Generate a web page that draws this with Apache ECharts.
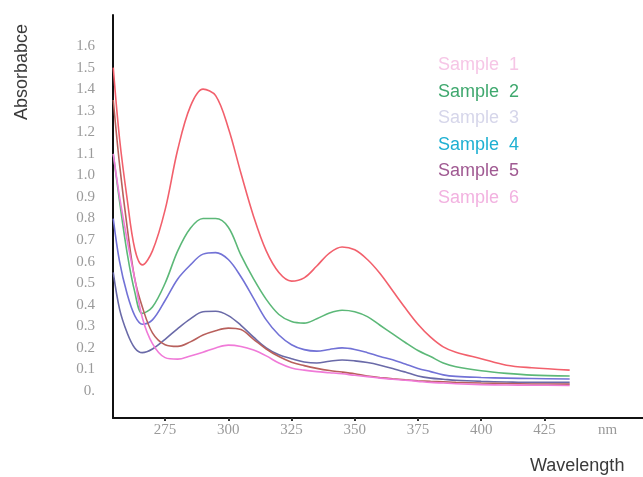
<!DOCTYPE html>
<html>
<head>
<meta charset="utf-8">
<script src="https://cdn.jsdelivr.net/npm/echarts@6/dist/echarts.min.js"></script>
<style>
  html, body { margin: 0; padding: 0; background: #fff; }
  #chart { width: 643px; height: 477px; }
</style>
</head>
<body>
<div id="chart"></div>
<script>
// Wavelength grid (nm) shared by every spectrum
const wavelengths = [254.5, 257, 260, 263, 266, 270, 275, 280, 285, 290, 295, 300, 305, 310, 315, 320, 325, 330, 335, 340, 345, 350, 355, 360, 365, 370, 375, 380, 385, 390, 400, 410, 420, 435];

// Absorbance of each sample at the wavelengths above
const sample1 = [1.50, 1.17, 0.89, 0.66, 0.585, 0.65, 0.84, 1.12, 1.32, 1.40, 1.37, 1.22, 1.01, 0.81, 0.65, 0.55, 0.51, 0.525, 0.58, 0.64, 0.668, 0.655, 0.61, 0.545, 0.465, 0.385, 0.31, 0.25, 0.205, 0.18, 0.15, 0.12, 0.108, 0.097];
const sample2 = [1.10, 0.88, 0.64, 0.46, 0.36, 0.39, 0.50, 0.65, 0.755, 0.80, 0.80, 0.76, 0.63, 0.52, 0.425, 0.355, 0.322, 0.315, 0.335, 0.362, 0.375, 0.368, 0.345, 0.305, 0.265, 0.225, 0.188, 0.16, 0.13, 0.113, 0.094, 0.082, 0.074, 0.07];
const sample3 = [0.80, 0.60, 0.45, 0.35, 0.31, 0.33, 0.42, 0.52, 0.585, 0.635, 0.642, 0.61, 0.53, 0.43, 0.33, 0.26, 0.215, 0.192, 0.185, 0.193, 0.20, 0.193, 0.178, 0.16, 0.145, 0.125, 0.105, 0.09, 0.075, 0.068, 0.063, 0.06, 0.058, 0.056];
const sample4 = [0.55, 0.38, 0.27, 0.20, 0.178, 0.195, 0.24, 0.29, 0.335, 0.368, 0.37, 0.35, 0.305, 0.25, 0.20, 0.168, 0.15, 0.135, 0.13, 0.138, 0.144, 0.14, 0.132, 0.12, 0.105, 0.088, 0.07, 0.06, 0.055, 0.05, 0.045, 0.042, 0.04, 0.04];
const sample5 = [1.35, 1.05, 0.76, 0.52, 0.39, 0.27, 0.215, 0.207, 0.228, 0.26, 0.28, 0.292, 0.285, 0.24, 0.195, 0.16, 0.134, 0.118, 0.105, 0.095, 0.088, 0.08, 0.07, 0.063, 0.057, 0.052, 0.048, 0.045, 0.043, 0.04, 0.037, 0.035, 0.033, 0.032];
const sample6 = [1.10, 0.90, 0.70, 0.52, 0.34, 0.22, 0.155, 0.148, 0.163, 0.18, 0.20, 0.213, 0.207, 0.19, 0.163, 0.13, 0.107, 0.097, 0.09, 0.085, 0.08, 0.073, 0.067, 0.06, 0.055, 0.05, 0.045, 0.04, 0.037, 0.034, 0.03, 0.028, 0.027, 0.026];

const sampleNames = ['Sample  1', 'Sample  2', 'Sample  3', 'Sample  4', 'Sample  5', 'Sample  6'];
const sampleValues = [sample1, sample2, sample3, sample4, sample5, sample6];

// Tick labels
const xTicks = [275, 300, 325, 350, 375, 400, 425, 450];
const yTicks = [0, 0.1, 0.2, 0.3, 0.4, 0.5, 0.6, 0.7, 0.8, 0.9, 1.0, 1.1, 1.2, 1.3, 1.4, 1.5, 1.6];

const lineColors = ['#f2606c', '#5cb878', '#7272d6', '#6a6aa8', '#b8605c', '#f07ad8'];
const legendColors = ['#f6c6e6', '#3fa86e', '#d6d6ea', '#1eb0d2', '#a05a92', '#f2b2e0'];

const chart = echarts.init(document.getElementById('chart'), null, { renderer: 'canvas' });

const tickFont = { fontFamily: 'Liberation Serif', fontSize: 15, color: '#9a9a9a' };

chart.setOption({
  animation: false,
  backgroundColor: '#ffffff',
  grid: { left: 113, right: 0, top: 15, bottom: 59, containLabel: false },
  legend: {
    orient: 'vertical',
    left: 428,
    top: 51,
    icon: 'none',
    itemWidth: 0,
    itemHeight: 18,
    itemGap: 8.6,
    data: sampleNames.map((n, i) => ({ name: n, textStyle: { color: legendColors[i] } })),
    textStyle: { fontFamily: 'Liberation Sans', fontSize: 18, lineHeight: 18 },
    selectedMode: false
  },
  xAxis: {
    type: 'value',
    min: 254.4,
    max: 464,
    axisLine: { onZero: false, lineStyle: { color: '#111', width: 2 } },
    splitLine: { show: false },
    axisTick: { show: true, customValues: xTicks.slice(0, 7), length: 3, lineStyle: { color: '#333', width: 2 } },
    axisLabel: Object.assign({
      customValues: xTicks,
      margin: 5,
      formatter: v => (v === 450 ? 'nm' : String(v))
    }, tickFont)
  },
  yAxis: {
    type: 'value',
    min: -0.125,
    max: 1.744,
    axisLine: { show: true, onZero: false, lineStyle: { color: '#111', width: 2 } },
    splitLine: { show: false },
    axisTick: { show: false },
    axisLabel: Object.assign({
      customValues: yTicks,
      margin: 18,
      formatter: v => (v === 0 ? '0.' : v.toFixed(1))
    }, tickFont)
  },
  graphic: [
    {
      type: 'text',
      x: 13,
      y: 120,
      rotation: Math.PI / 2,
      style: { text: 'Absorbabce', fill: '#3a3a3a', font: '18px "Liberation Sans"' }
    },
    {
      type: 'text',
      x: 530,
      y: 457,
      style: { text: 'Wavelength', fill: '#3a3a3a', font: '18px "Liberation Sans"' }
    }
  ],
  series: sampleNames.map((name, i) => ({
    name: name,
    type: 'line',
    smooth: 0.35,
    showSymbol: false,
    color: lineColors[i],
    lineStyle: { width: 1.6, color: lineColors[i] },
    data: wavelengths.map((w, k) => [w, sampleValues[i][k]])
  }))
});
</script>
</body>
</html>
